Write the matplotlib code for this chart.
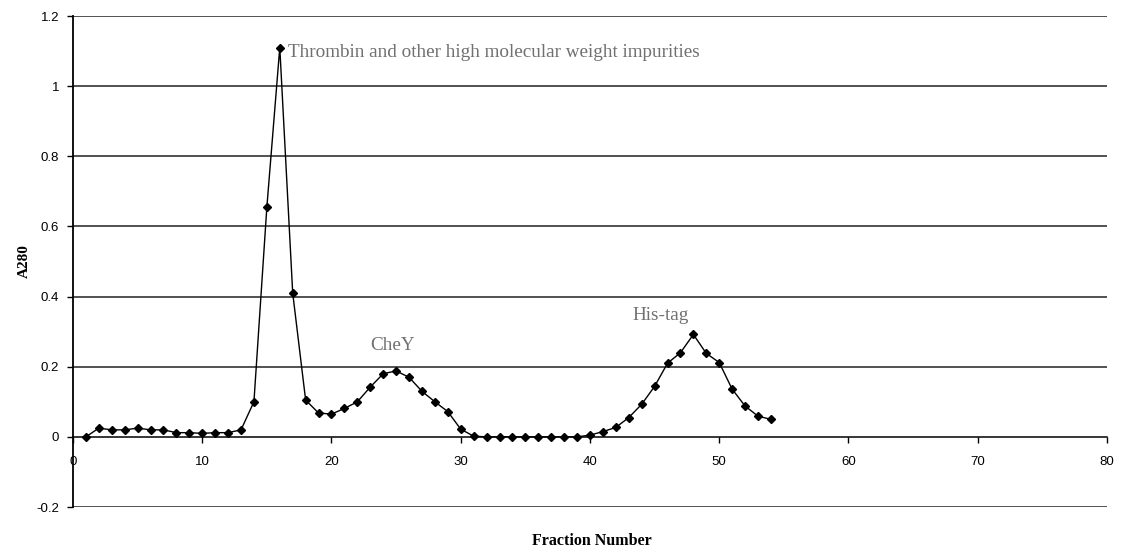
import numpy as np
import matplotlib.pyplot as plt

# fraction numbers and absorbance readings (A280)
fractions = list(range(1, 55))
a280 = [0, 0.025, 0.02, 0.02, 0.025, 0.02, 0.02, 0.012, 0.012, 0.01,
        0.012, 0.012, 0.02, 0.1, 0.655, 1.11, 0.41, 0.105, 0.068, 0.065,
        0.081, 0.1, 0.142, 0.18, 0.188, 0.17, 0.13, 0.1, 0.072, 0.022,
        0.002, 0, 0, 0, 0, 0, 0, 0, 0, 0.005,
        0.015, 0.027, 0.055, 0.093, 0.144, 0.21, 0.24, 0.292, 0.238, 0.212,
        0.136, 0.088, 0.059, 0.05]

x_ticks = [0, 10, 20, 30, 40, 50, 60, 70, 80]
y_ticks = [-0.2, 0, 0.2, 0.4, 0.6, 0.8, 1, 1.2]
y_labels = ['-0.2', '0', '0.2', '0.4', '0.6', '0.8', '1', '1.2']

# peak labels: text, x, y
peak_labels = [('Thrombin and other high molecular weight impurities', 16.6, 1.095),
               ('CheY', 23.0, 0.26),
               ('His-tag', 43.3, 0.345)]

fig = plt.figure(figsize=(11.21, 5.56), dpi=100)
ax = fig.add_axes([0.0651, 0.0881, 0.9224, 0.8831])

# horizontal gridlines
for y in y_ticks:
    if y != 0:
        ax.axhline(y, color='#222222', linewidth=1.1, zorder=1)

ax.plot(fractions, a280, color='black', linewidth=1.0, marker='D',
        markersize=4.5, markerfacecolor='black', markeredgecolor='black', zorder=3)

ax.set_xlim(0, 80)
ax.set_ylim(-0.2, 1.2)

ax.spines['top'].set_visible(False)
ax.spines['right'].set_visible(False)
ax.spines['bottom'].set_position(('data', 0))
ax.spines['left'].set_linewidth(1.3)
ax.spines['bottom'].set_linewidth(1.1)

ax.set_xticks(x_ticks)
ax.set_xticklabels([str(t) for t in x_ticks], fontsize=9.5, family='Liberation Sans')
ax.set_yticks(y_ticks)
ax.set_yticklabels(y_labels, fontsize=9.5, family='Liberation Sans')
ax.tick_params(axis='x', direction='out', length=4, width=1, pad=10)
ax.tick_params(axis='y', direction='out', length=4, width=1, pad=6)

for txt, x, y in peak_labels:
    ax.text(x, y, txt, fontsize=13.8, color='#707070', family='Liberation Serif',
            va='center', ha='left')

ax.set_ylabel('A280', fontsize=11, fontweight='bold', family='Liberation Serif', labelpad=4)
fig.text(0.528, 0.027, 'Fraction Number', fontsize=11.5, fontweight='bold',
         family='Liberation Serif', ha='center', va='center')

fig.savefig('out.png', dpi=100)
